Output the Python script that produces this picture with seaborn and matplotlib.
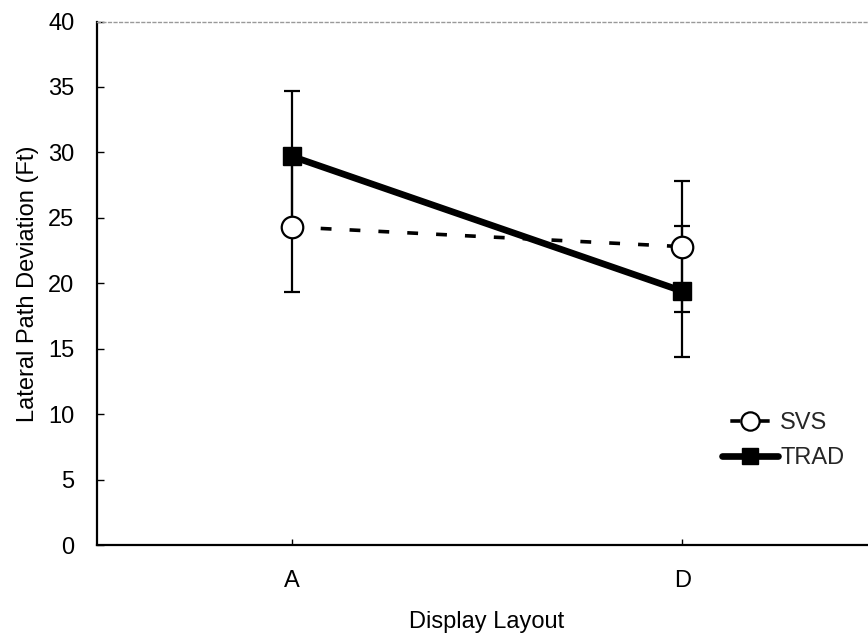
import matplotlib
matplotlib.use("Agg")
import matplotlib.pyplot as plt
from matplotlib.lines import Line2D
import seaborn as sns
import pandas as pd

# Mean lateral path deviation (ft) per display layout, with error half-widths
layouts = ["A", "D"]
svs_mean = [24.3, 22.8]
svs_err = [5.0, 5.0]
trad_mean = [29.7, 19.4]
trad_err = [5.0, 5.0]
series_names = ["SVS", "TRAD"]
y_ticks = [0, 5, 10, 15, 20, 25, 30, 35, 40]

df = pd.DataFrame({
    "layout": layouts * 2,
    "pos": list(range(len(layouts))) * 2,
    "dev": svs_mean + trad_mean,
    "err": svs_err + trad_err,
    "display": [series_names[0]] * len(layouts) + [series_names[1]] * len(layouts),
})

sns.set_theme(style="white")
plt.rcParams["font.family"] = ["Liberation Sans", "DejaVu Sans"]

FS = 17

fig = plt.figure(figsize=(8.68, 6.37), dpi=100)
ax = fig.add_axes([0.1114, 0.1444, 0.8993, 0.8218])

styles = {
    "SVS": dict(ls=(0, (3.0, 5.0)), lw=2.6, marker="o", ms=15.5, mfc="white",
                mec="black", mew=1.6),
    "TRAD": dict(ls="-", lw=4.8, marker="s", ms=13, mfc="black",
                 mec="black", mew=1.0),
}
# legend keys: one short dash on each side of the marker, inset from the ends
legend_ls = {"SVS": (5.8, (2.8, 5.3)), "TRAD": "-"}

# error bars first, so the markers sit on top of them
for name in series_names:
    sub = df[df["display"] == name]
    ax.errorbar(sub["pos"], sub["dev"], yerr=sub["err"], fmt="none",
                ecolor="black", elinewidth=1.6, capsize=5.8, capthick=1.6,
                zorder=2)

sns.lineplot(data=df, x="pos", y="dev", hue="display", style="display",
             palette={"SVS": "black", "TRAD": "black"},
             dashes={"SVS": (3.0, 5.0), "TRAD": ""},
             markers={"SVS": "o", "TRAD": "s"},
             legend=False, ax=ax, zorder=3)

for line, name in zip(ax.get_lines()[-2:], series_names):
    st = styles[name]
    line.set_linewidth(st["lw"])
    line.set_markersize(st["ms"])
    line.set_markerfacecolor(st["mfc"])
    line.set_markeredgecolor(st["mec"])
    line.set_markeredgewidth(st["mew"])

ax.set_xlim(-0.5, 1.5)
ax.set_ylim(0, 40)
ax.set_xticks(range(len(layouts)))
ax.set_xticklabels(layouts)
ax.set_yticks(y_ticks)
ax.tick_params(axis="y", direction="in", length=5, width=1, pad=16,
               labelsize=FS, colors="black", left=True)
ax.tick_params(axis="x", direction="in", length=4, width=1, pad=18,
               labelsize=FS, colors="black", bottom=True)

ax.set_xlabel("Display Layout", fontsize=FS, labelpad=14, color="black")
ax.set_ylabel("Lateral Path Deviation (Ft)", fontsize=FS, labelpad=7,
              color="black")

for side in ["left", "bottom"]:
    ax.spines[side].set_color("black")
    ax.spines[side].set_linewidth(1.6)
ax.spines["top"].set_color("#999999")
ax.spines["top"].set_linewidth(1.0)
ax.spines["top"].set_linestyle((0, (2, 2)))
ax.spines["right"].set_visible(False)
ax.grid(False)

handles = []
for name in series_names:
    st = styles[name]
    handles.append(Line2D([], [], color="black", ls=legend_ls[name], lw=st["lw"],
                          marker=st["marker"], ms=st["ms"] * 0.85,
                          mfc=st["mfc"], mec=st["mec"], mew=st["mew"]))
fig.legend(handles, series_names, loc="upper left",
           bbox_to_anchor=(0.832, 0.3526), frameon=False, fontsize=FS,
           handlelength=2.35, handletextpad=0.1, labelspacing=0.55,
           borderpad=0, borderaxespad=0, numpoints=1)

fig.savefig("out.png", dpi=100, facecolor="white")
